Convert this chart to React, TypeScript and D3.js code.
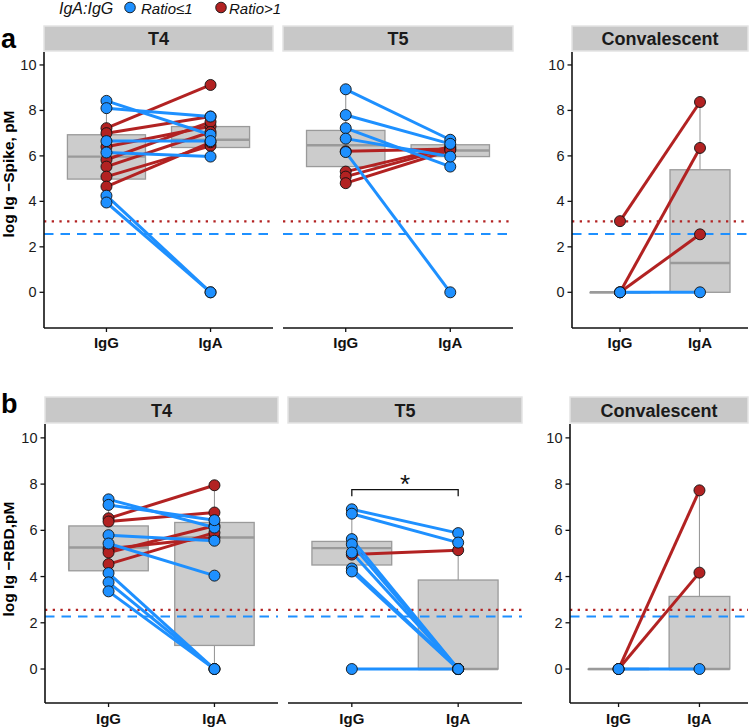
import React from 'react';
import * as d3 from 'd3';

const groups = ['IgG', 'IgA'];
const facets = ['T4', 'T5', 'Convalescent'];
const yTicks = [0, 2, 4, 6, 8, 10];

// ratio codes: 'le' = IgA:IgG <= 1, 'gt' = IgA:IgG > 1
// panel a: Ig - Spike
const spikeT4IgG = [8.42, 8.1, 7.22, 7.0, 6.65, 6.4, 6.15, 5.83, 5.53, 5.09, 4.65, 4.25, 3.95];
const spikeT4IgA = [6.93, 7.73, 9.12, 7.73, 6.65, 7.3, 5.97, 7.5, 7.05, 6.44, 6.6, 0, 0];
const spikeT4Ratio = ['le', 'le', 'gt', 'gt', 'le', 'gt', 'le', 'gt', 'gt', 'gt', 'gt', 'le', 'le'];

const spikeT5IgG = [8.93, 7.8, 7.22, 6.76, 6.17, 6.2, 5.31, 5.09, 4.8];
const spikeT5IgA = [6.71, 6.53, 5.53, 5.97, 0, 6.3, 6.4, 6.35, 6.25];
const spikeT5Ratio = ['le', 'le', 'le', 'le', 'le', 'gt', 'gt', 'gt', 'gt'];

const spikeConvIgG = [3.13, 0, 0, 0];
const spikeConvIgA = [8.37, 6.35, 2.55, 0];
const spikeConvRatio = ['gt', 'gt', 'gt', 'le'];

// box stats per group: [lower whisker, q1, median, q3, upper whisker]
const spikeT4Box = [[3.95, 4.98, 5.97, 6.93, 8.42], [5.97, 6.37, 6.71, 7.29, 7.73]];
const spikeT5Box = [[4.8, 5.53, 6.47, 7.12, 8.93], [5.53, 5.97, 6.24, 6.49, 6.71]];
const spikeConvBox = [[0, 0, 0, 0, 0], [0, 0, 1.29, 5.39, 8.37]];
const spikeCutoffs = [3.12, 2.56]; // IgA (red dotted), IgG (blue dashed)

// panel b: Ig - RBD
const rbdT4IgG = [7.34, 7.1, 6.52, 6.38, 5.79, 5.43, 5.2, 5.04, 4.54, 4.15, 3.75, 3.36];
const rbdT4IgA = [6.12, 6.44, 7.95, 6.77, 5.55, 4.04, 5.69, 6.2, 5.9, 0, 0, 0];
const rbdT4Ratio = ['le', 'le', 'gt', 'gt', 'le', 'le', 'gt', 'gt', 'gt', 'le', 'le', 'le'];

const rbdT5IgG = [6.91, 6.72, 4.95, 5.62, 5.4, 5.04, 4.35, 4.22, 0];
const rbdT5IgA = [5.88, 5.47, 5.14, 0, 0, 0, 0, 0, 0];
const rbdT5Ratio = ['le', 'le', 'gt', 'le', 'le', 'le', 'le', 'le', 'le'];

const rbdConvIgG = [0, 0, 0];
const rbdConvIgA = [7.73, 4.17, 0];
const rbdConvRatio = ['gt', 'gt', 'le'];

const rbdT4Box = [[3.36, 4.25, 5.26, 6.19, 7.34], [0, 1.02, 5.69, 6.34, 7.95]];
const rbdT5Box = [[4.22, 4.5, 5.23, 5.52, 6.91], [0, 0, 0, 3.85, 5.88]];
const rbdConvBox = [[0, 0, 0, 0, 0], [0, 0, 0, 3.14, 7.73]];
const rbdCutoffs = [2.56, 2.27];

const rbdT5Sig = [7.47, 7.76]; // bracket tick bottom, bracket top

const FONT = '"Liberation Sans", Arial, Helvetica, sans-serif';
const BLUE = '#1E90FF';
const RED = '#B22222';
const colorOf = (r) => (r === 'gt' ? RED : BLUE);

const rows = [
  {
    letter: 'a', title: 'log Ig \u2212Spike, pM', letterY: 48, titleY: 174,
    stripTop: 26, stripBottom: 51, top: 52, bottom: 328, domain: [-1.57, 10.57],
    cutoffs: spikeCutoffs, labelY: 347.5,
    panels: [
      { igg: spikeT4IgG, iga: spikeT4IgA, ratio: spikeT4Ratio, box: spikeT4Box, x0: 44, x1: 273, yAxis: true },
      { igg: spikeT5IgG, iga: spikeT5IgA, ratio: spikeT5Ratio, box: spikeT5Box, x0: 283, x1: 513, yAxis: false },
      { igg: spikeConvIgG, iga: spikeConvIgA, ratio: spikeConvRatio, box: spikeConvBox, x0: 572, x1: 748, yAxis: true },
    ],
  },
  {
    letter: 'b', title: 'log Ig \u2212RBD,pM', letterY: 413, titleY: 559,
    stripTop: 397, stripBottom: 423, top: 424, bottom: 703, domain: [-1.47, 10.6],
    cutoffs: rbdCutoffs, labelY: 724,
    panels: [
      { igg: rbdT4IgG, iga: rbdT4IgA, ratio: rbdT4Ratio, box: rbdT4Box, x0: 45, x1: 278, yAxis: true },
      { igg: rbdT5IgG, iga: rbdT5IgA, ratio: rbdT5Ratio, box: rbdT5Box, x0: 288, x1: 522, yAxis: false, sig: rbdT5Sig },
      { igg: rbdConvIgG, iga: rbdConvIgA, ratio: rbdConvRatio, box: rbdConvBox, x0: 570, x1: 748, yAxis: true },
    ],
  },
];

function Panel({ row, p, name }) {
  const x = d3.scalePoint().domain(groups).range([p.x0, p.x1]).padding(0.6);
  const y = d3.scaleLinear().domain(row.domain).range([row.bottom, row.top]);
  const bw = x.step() * 0.75;

  // red pairs first, blue drawn over them
  const idx = d3.range(p.igg.length).sort((a, b) => (p.ratio[a] === p.ratio[b] ? 0 : p.ratio[a] === 'gt' ? -1 : 1));

  return (
    <g>
      <rect x={p.x0} y={row.stripTop} width={p.x1 - p.x0} height={row.stripBottom - row.stripTop}
        fill="#c8c8c8" stroke="#e4e4e4" strokeWidth={1.5} />
      <text x={(p.x0 + p.x1) / 2} y={(row.stripTop + row.stripBottom) / 2 + 6.5} textAnchor="middle"
        fontSize={18} fontWeight="bold" fill="#1a1a1a">{name}</text>

      {p.box.map((b, i) => {
        const cx = x(groups[i]);
        return (
          <g key={i} stroke="#9a9a9a">
            <line x1={cx} x2={cx} y1={y(b[0])} y2={y(b[1])} strokeWidth={1.1} />
            <line x1={cx} x2={cx} y1={y(b[3])} y2={y(b[4])} strokeWidth={1.1} />
            <rect x={cx - bw / 2} y={y(b[3])} width={bw} height={Math.max(0.5, y(b[1]) - y(b[3]))}
              fill="#cccccc" strokeWidth={1.3} />
            <line x1={cx - bw / 2} x2={cx + bw / 2} y1={y(b[2])} y2={y(b[2])} strokeWidth={2.4} />
          </g>
        );
      })}

      <line x1={p.x0} x2={p.x1} y1={y(row.cutoffs[0])} y2={y(row.cutoffs[0])}
        stroke={RED} strokeWidth={2.3} strokeDasharray="2.3 5.4" />
      <line x1={p.x0} x2={p.x1} y1={y(row.cutoffs[1])} y2={y(row.cutoffs[1])}
        stroke={BLUE} strokeWidth={2} strokeDasharray="9.5 7" />

      {idx.map((i) => (
        <line key={'l' + i} x1={x('IgG')} y1={y(p.igg[i])} x2={x('IgA')} y2={y(p.iga[i])}
          stroke={colorOf(p.ratio[i])} strokeWidth={3} />
      ))}
      {idx.map((i) => (
        <g key={'p' + i} stroke="#111" strokeWidth={0.9} fill={colorOf(p.ratio[i])}>
          <circle cx={x('IgG')} cy={y(p.igg[i])} r={5.5} />
          <circle cx={x('IgA')} cy={y(p.iga[i])} r={5.5} />
        </g>
      ))}

      {p.sig && (
        <g>
          <path d={`M${x('IgG')},${y(p.sig[0])}V${y(p.sig[1])}H${x('IgA')}V${y(p.sig[0])}`}
            fill="none" stroke="#111" strokeWidth={1.3} />
          <text x={(x('IgG') + x('IgA')) / 2} y={y(p.sig[1]) + 3} textAnchor="middle" fontSize={26}
            fill="#111">*</text>
        </g>
      )}

      <line x1={p.x0} x2={p.x1} y1={row.bottom} y2={row.bottom} stroke="#111" strokeWidth={1.6} />
      {groups.map((g) => (
        <g key={g}>
          <line x1={x(g)} x2={x(g)} y1={row.bottom} y2={row.bottom + 4} stroke="#111" strokeWidth={1.3} />
          <text x={x(g)} y={row.labelY} textAnchor="middle" fontSize={15} fontWeight="bold" fill="#111">{g}</text>
        </g>
      ))}

      {p.yAxis && (
        <g>
          <line x1={p.x0} x2={p.x0} y1={row.top} y2={row.bottom} stroke="#111" strokeWidth={1.6} />
          {yTicks.map((t) => (
            <g key={t}>
              <line x1={p.x0 - 4.5} x2={p.x0} y1={y(t)} y2={y(t)} stroke="#111" strokeWidth={1.3} />
              <text x={p.x0 - 7.5} y={y(t) + 5} textAnchor="end" fontSize={14.5} fill="#1a1a1a">{t}</text>
            </g>
          ))}
        </g>
      )}
    </g>
  );
}

export default function App() {
  return (
    <svg width={750} height={727} style={{ position: 'absolute', left: 0, top: 0, fontFamily: FONT }}>
      <rect width={750} height={727} fill="#fff" />

      <g fontStyle="italic" fill="#111">
        <text x={59} y={13.5} fontSize={16}>IgA:IgG</text>
        <circle cx={130} cy={7.5} r={5.3} fill={BLUE} stroke="#111" strokeWidth={0.9} />
        <text x={141} y={13.5} fontSize={15}>Ratio≤1</text>
        <circle cx={221} cy={7.5} r={5.3} fill={RED} stroke="#111" strokeWidth={0.9} />
        <text x={229} y={13.5} fontSize={15}>Ratio&gt;1</text>
      </g>

      {rows.map((row) => (
        <g key={row.letter}>
          <text x={1} y={row.letterY} fontSize={27} fontWeight="bold" fill="#000">{row.letter}</text>
          <text transform={`translate(14,${row.titleY}) rotate(-90)`} textAnchor="middle" fontSize={15.5}
            fontWeight="bold" fill="#000">{row.title}</text>
          {row.panels.map((p, k) => (
            <Panel key={k} row={row} p={p} name={facets[k]} />
          ))}
        </g>
      ))}
    </svg>
  );
}
